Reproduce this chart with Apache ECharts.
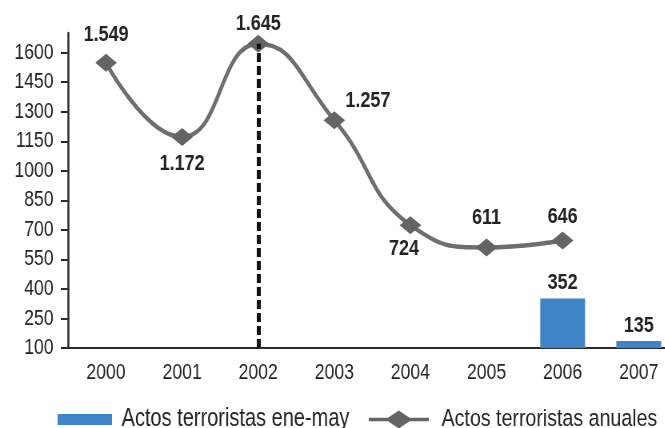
<!DOCTYPE html>
<html>
<head>
<meta charset="utf-8">
<script src="https://cdn.jsdelivr.net/npm/echarts@6/dist/echarts.min.js"></script>
<style>
  html, body { margin: 0; padding: 0; background: #fff; overflow: hidden; }
  /* the original uses a condensed typeface; draw wider and squeeze horizontally */
  #chart { width: 846px; height: 428px; transform: scaleX(0.8); transform-origin: 0 0; }
</style>
</head>
<body>
<div id="chart"></div>
<script>
var years = ['2000', '2001', '2002', '2003', '2004', '2005', '2006', '2007'];
var anuales = [1549, 1172, 1645, 1257, 724, 611, 646, null];
var eneMay = [null, null, null, null, null, null, 352, 135];
var yTicks = [100, 250, 400, 550, 700, 850, 1000, 1150, 1300, 1450, 1600];

var FONT = "'Liberation Sans', Arial, sans-serif";

// where each line label sits
var lineLabelPos = [
  { position: 'top', distance: 7 },
  { position: 'bottom', distance: 6 },
  { position: 'top', distance: 0 },
  { position: 'top', distance: 4, offset: [42, 5] },
  { position: 'bottom', distance: 3, offset: [-8, 0] },
  { position: 'top', distance: 9 },
  { position: 'top', distance: 3 },
  {}
];

// legend glyph for the line series: bar with a diamond in the middle
var LINE_ICON = 'path://M0,7.2L24,7.2L37.5,0L51,7.2L75,7.2L75,10.8L51,10.8L37.5,18L24,10.8L0,10.8Z';

function fmt(v) {
  // thousands separator with a dot
  return String(v).replace(/\B(?=(\d{3})+(?!\d))/g, '.');
}

var lineData = anuales.map(function (v, i) {
  return { value: v, label: lineLabelPos[i] };
});

var chart = echarts.init(document.getElementById('chart'));
chart.setOption({
  animation: false,
  textStyle: { fontFamily: FONT },
  grid: { left: 85, right: 0, top: 33, bottom: 80 },
  legend: [{
    data: [{ name: 'Actos terroristas ene-may', icon: 'rect' }],
    left: 67, top: 402,
    itemWidth: 68, itemHeight: 11,
    textStyle: { fontSize: 25, color: '#222', fontFamily: FONT, padding: [0, 0, 0, 7] }
  }, {
    data: [{ name: 'Actos terroristas anuales', icon: LINE_ICON }],
    left: 456, top: 402,
    itemWidth: 75, itemHeight: 18,
    symbolKeepAspect: false,
    textStyle: { fontSize: 24.5, color: '#222', fontFamily: FONT, padding: [0, 0, 0, 11] }
  }],
  xAxis: {
    type: 'category',
    data: years,
    axisLine: { lineStyle: { color: '#2b2b2b', width: 2 } },
    axisTick: { length: 7, lineStyle: { color: '#2b2b2b', width: 2.5 } },
    axisLabel: { fontSize: 22, color: '#222', margin: 14, fontFamily: FONT }
  },
  yAxis: {
    type: 'value',
    min: 100, max: 1700, interval: 150,
    splitLine: { show: false },
    axisLine: { show: true, lineStyle: { color: '#2b2b2b', width: 2.5 } },
    axisTick: { show: true, length: 9, customValues: yTicks, lineStyle: { color: '#2b2b2b', width: 2 } },
    axisLabel: {
      fontSize: 22, color: '#222', margin: 18, customValues: yTicks, fontFamily: FONT,
      formatter: function (v) { return String(v); }
    }
  },
  series: [{
    name: 'Actos terroristas ene-may',
    type: 'bar',
    data: eneMay,
    barWidth: 56,
    itemStyle: { color: '#3f84c7' },
    label: {
      show: true, position: 'top', distance: 4,
      fontSize: 22.5, fontWeight: 'bold', color: '#222', fontFamily: FONT,
      formatter: function (p) { return fmt(p.value); }
    }
  }, {
    name: 'Actos terroristas anuales',
    type: 'line',
    data: lineData,
    smooth: true,
    symbol: 'diamond',
    symbolSize: [27, 18],
    lineStyle: { color: '#6d6e71', width: 4.5 },
    itemStyle: { color: '#636466' },
    label: {
      show: true,
      fontSize: 22.5, fontWeight: 'bold', color: '#222', fontFamily: FONT,
      formatter: function (p) { return fmt(p.value); }
    },
    markLine: {
      silent: true,
      symbol: 'none',
      label: { show: false },
      lineStyle: { color: '#111', type: [9, 4], width: 5 },
      data: [[{ coord: ['2002', 100] }, { coord: ['2002', 1645] }]]
    }
  }]
});
</script>
</body>
</html>
